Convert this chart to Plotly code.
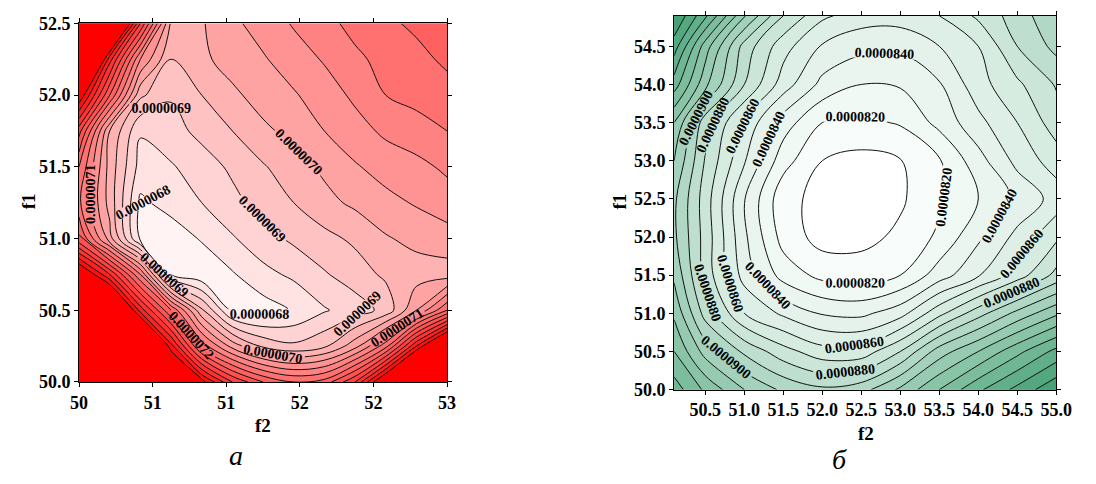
import numpy as np
import plotly.graph_objects as go

# ---------------- data (left panel "а"), z in units of 1e-7 ----------------
left_f2 = [50.0, 50.25, 50.5, 50.75, 51.0, 51.25, 51.5, 51.75, 52.0, 52.25, 52.5, 52.75, 53.0]
left_f1 = [50.0, 50.25, 50.5, 50.75, 51.0, 51.25, 51.5, 51.75, 52.0, 52.25, 52.5]
left_z_e7 = [
    [85.0, 83.0, 80.0, 77.0, 75.2, 73.5, 72.5, 72.0, 72.2, 73.5, 76.0, 79.0, 82.0],
    [82.0, 80.0, 78.0, 74.7, 71.8, 70.3, 69.4, 69.1, 69.4, 70.3, 71.8, 74.5, 77.0],
    [80.0, 77.5, 74.3, 72.0, 69.6, 67.9, 67.75, 68.05, 68.45, 68.75, 69.15, 70.5, 72.0],
    [76.0, 74.0, 71.5, 67.95, 67.6, 67.95, 68.35, 68.6, 68.95, 69.25, 69.6, 69.75, 69.75],
    [72.6, 70.2, 67.9, 67.7, 68.05, 68.45, 68.8, 69.1, 69.35, 69.6, 69.95, 70.15, 70.3],
    [71.6, 69.8, 67.9, 68.2, 68.5, 68.85, 69.2, 69.5, 69.85, 70.1, 70.35, 70.55, 70.75],
    [72.0, 69.8, 68.3, 68.45, 68.75, 69.1, 69.45, 69.8, 70.1, 70.45, 70.7, 70.85, 71.1],
    [73.2, 70.0, 68.55, 68.8, 69.15, 69.5, 69.9, 70.15, 70.5, 70.8, 71.1, 71.3, 71.5],
    [75.5, 72.5, 69.6, 69.05, 69.5, 69.9, 70.2, 70.45, 70.75, 71.1, 71.5, 71.65, 71.8],
    [79.0, 74.2, 71.0, 69.5, 69.9, 70.2, 70.45, 70.75, 71.05, 71.4, 71.65, 71.85, 72.1],
    [82.0, 78.0, 73.5, 69.9, 69.95, 70.4, 70.7, 71.05, 71.35, 71.65, 71.9, 72.1, 72.3],
]
left_xtick_vals = [50.0, 50.6, 51.2, 51.8, 52.4, 53.0]
left_xtick_text = ["50", "51", "51", "52", "52", "53"]
left_ytick_vals = [50.0, 50.5, 51.0, 51.5, 52.0, 52.5]

# ---------------- data (right panel "б"), z in units of 1e-6 ----------------
right_f2 = [50.1, 50.5, 51.0, 51.5, 52.0, 52.5, 53.0, 53.5, 54.0, 54.5, 55.0]
right_f1 = [50.0, 50.5, 51.0, 51.5, 52.0, 52.5, 53.0, 53.5, 54.0, 54.5, 54.9]
right_z_e6 = [
    [94.5, 92.8, 91.0, 89.8, 89.2, 89.6, 91.2, 93.0, 94.8, 96.3, 97.8],
    [93.0, 90.6, 88.8, 87.4, 86.4, 86.4, 88.0, 90.5, 92.0, 93.7, 95.3],
    [91.8, 88.6, 86.0, 84.8, 83.9, 83.75, 84.6, 86.7, 88.6, 90.3, 91.8],
    [90.8, 87.6, 84.6, 82.6, 81.7, 81.5, 82.0, 83.5, 84.9, 86.5, 88.3],
    [90.2, 87.6, 84.2, 81.6, 80.6, 80.7, 81.2, 82.2, 83.8, 85.3, 86.8],
    [90.2, 87.5, 84.05, 81.3, 80.7, 80.5, 80.85, 81.8, 83.0, 84.2, 85.4],
    [91.0, 87.9, 85.1, 82.4, 81.0, 80.7, 80.95, 81.9, 83.6, 85.3, 86.5],
    [92.0, 88.4, 85.8, 83.5, 82.0, 81.75, 82.1, 83.3, 84.7, 86.0, 87.5],
    [94.5, 91.3, 88.0, 85.5, 83.7, 83.0, 83.1, 83.9, 85.6, 86.8, 88.1],
    [96.5, 92.5, 88.6, 86.4, 84.9, 84.3, 84.2, 85.0, 86.0, 88.0, 89.3],
    [98.0, 95.2, 91.1, 88.0, 86.2, 85.5, 85.5, 86.0, 87.2, 88.5, 89.8],
]
right_xtick_vals = [50.5, 51.0, 51.5, 52.0, 52.5, 53.0, 53.5, 54.0, 54.5, 55.0]
right_ytick_vals = [50.0, 50.5, 51.0, 51.5, 52.0, 52.5, 53.0, 53.5, 54.0, 54.5]

UNIT_L = 1e-7
UNIT_R = 1e-6
zl = np.array(left_z_e7) * UNIT_L
zr = np.array(right_z_e6) * UNIT_R

SERIF = "Liberation Serif"
LABEL_FONT = dict(family=SERIF, size=14, color="black", weight="bold")
LINE = dict(width=1, color="#111111", smoothing=1)

fig = go.Figure()

# ---- left panel ----
fig.add_trace(go.Contour(
    x=left_f2, y=left_f1, z=zl, xaxis="x", yaxis="y",
    contours=dict(start=6.8e-6, end=7.5e-6, size=5e-8, coloring="fill", showlines=False),
    colorscale=[[0, "#fff3f3"], [1, "#ff0000"]], showscale=False,
    line=dict(width=0, smoothing=1), hoverinfo="skip"))
fig.add_trace(go.Contour(
    x=left_f2, y=left_f1, z=zl, xaxis="x", yaxis="y",
    contours=dict(start=6.85e-6, end=7.45e-6, size=1e-7, coloring="none"),
    line=LINE, showscale=False, hoverinfo="skip"))
# labelled lines; the level list starts far below the data (empty levels)
# so plotly spaces its inline labels more densely along each line
fig.add_trace(go.Contour(
    x=left_f2, y=left_f1, z=zl, xaxis="x", yaxis="y",
    contours=dict(start=-1.0e-6, end=7.5e-6, size=1e-7, coloring="none",
                  showlabels=True, labelfont=LABEL_FONT, labelformat=".7f"),
    line=LINE, showscale=False, hoverinfo="skip"))

# ---- right panel ----
fig.add_trace(go.Contour(
    x=right_f2, y=right_f1, z=zr, xaxis="x2", yaxis="y2",
    contours=dict(start=8.1e-5, end=9.8e-5, size=1e-6, coloring="fill", showlines=False),
    colorscale=[[0, "#ffffff"], [0.35, "#d4ebe0"], [1, "#3a9a6c"]], showscale=False,
    line=dict(width=0, smoothing=1), hoverinfo="skip"))
fig.add_trace(go.Contour(
    x=right_f2, y=right_f1, z=zr, xaxis="x2", yaxis="y2",
    contours=dict(start=8.1e-5, end=9.9e-5, size=2e-6, coloring="none"),
    line=LINE, showscale=False, hoverinfo="skip"))
fig.add_trace(go.Contour(
    x=right_f2, y=right_f1, z=zr, xaxis="x2", yaxis="y2",
    contours=dict(start=-3.6e-5, end=9.8e-5, size=2e-6, coloring="none",
                  showlabels=True, labelfont=LABEL_FONT, labelformat=".7f"),
    line=LINE, showscale=False, hoverinfo="skip"))

W, H = 1096, 484
TICKFONT = dict(family=SERIF, size=18, color="black", weight="bold")
axis_common = dict(showline=True, linecolor="black", linewidth=1, mirror="ticks",
                   ticks="outside", ticklen=4, tickcolor="black", tickfont=TICKFONT,
                   showgrid=False, zeroline=False)

fig.update_layout(
    width=W, height=H, margin=dict(l=0, r=0, t=0, b=0),
    paper_bgcolor="white", plot_bgcolor="white", showlegend=False,
    xaxis=dict(domain=[71.7 / W, 448.3 / W], range=[50, 53], tickvals=left_xtick_vals,
               ticktext=left_xtick_text, anchor="y", **axis_common),
    yaxis=dict(domain=[1 - 388 / H, 1 - 14 / H], range=[50, 52.5], tickvals=left_ytick_vals,
               tickformat=".1f", anchor="x", **axis_common),
    xaxis2=dict(domain=[680.7 / W, 1071.7 / W], range=[50.1, 55.0], tickvals=right_xtick_vals,
                tickformat=".1f", anchor="y2", **axis_common),
    yaxis2=dict(domain=[1 - 396 / H, 1 - 6 / H], range=[50.0, 54.9], tickvals=right_ytick_vals,
                tickformat=".1f", anchor="x2", **axis_common),
)

def px_ann(text, x, y, size, bold=True, italic=False, angle=0):
    font = dict(family=SERIF, size=size, color="black",
                weight="bold" if bold else "normal",
                style="italic" if italic else "normal")
    fig.add_annotation(text=text, x=x / W, y=1 - y / H, xref="paper", yref="paper",
                       showarrow=False, font=font, textangle=angle,
                       xanchor="center", yanchor="middle")

px_ann("f1", 20, 200, 19, angle=-90)
px_ann("f2", 260, 433, 19)
px_ann("f1", 625, 200, 19, angle=-90)
px_ann("f2", 877, 442, 19)
px_ann("а", 232, 465, 28, bold=False, italic=True)
px_ann("б", 850, 469, 28, bold=False, italic=True)

fig.write_html("out.html")
